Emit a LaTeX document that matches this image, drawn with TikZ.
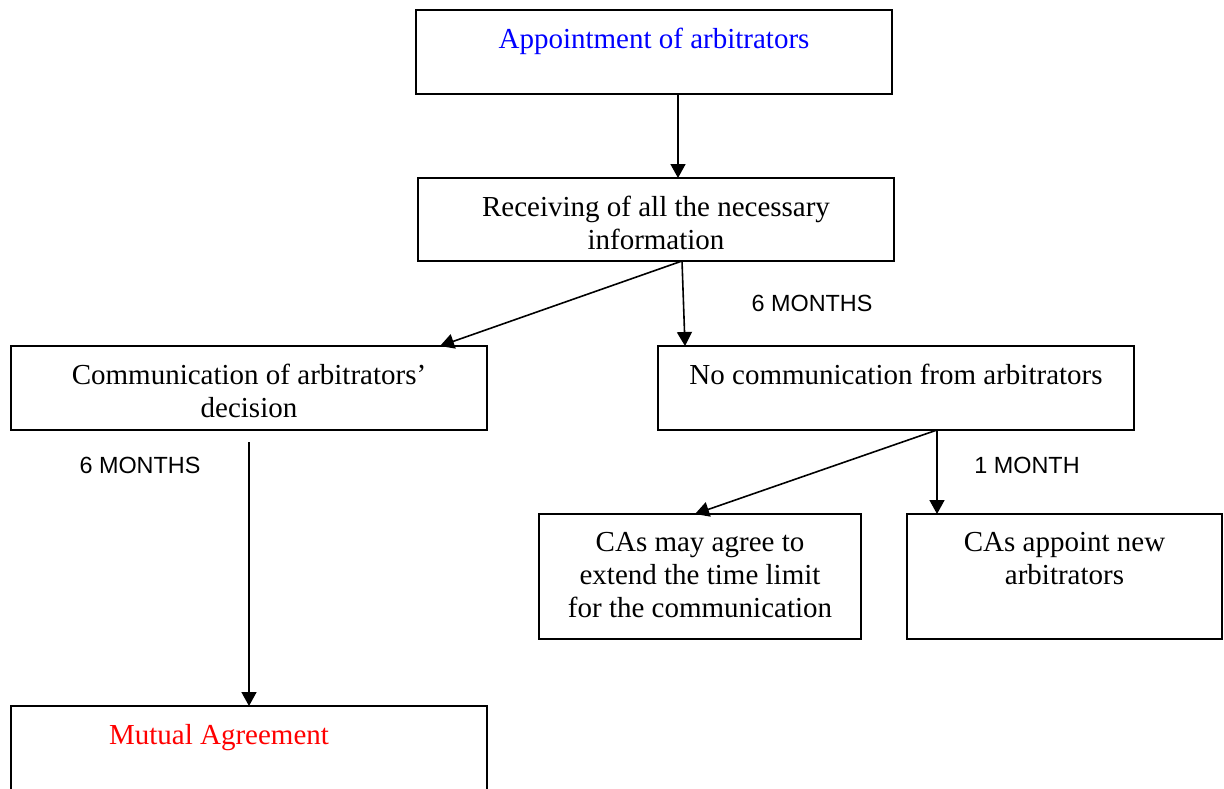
\documentclass[tikz,border=0pt]{standalone}
\usepackage{fontspec}
\setmainfont{Liberation Serif}
\newfontfamily\labelfont{Liberation Sans}
\usetikzlibrary{arrows.meta}

\tikzset{
  box/.style={draw, line width=0.9pt, inner sep=0pt, outer sep=0pt},
  boxtext/.style={anchor=north, inner sep=0pt, yshift=-9pt, align=center,
    font=\fontsize{14.5}{16.5}\selectfont},
  timelabel/.style={font=\labelfont\fontsize{11.7}{14}\selectfont},
  arrow/.style={-{Triangle[length=7pt,width=7.5pt]}, line width=0.8pt}
}

\begin{document}
\begin{tikzpicture}[x=0.5pt, y=-0.5pt]
        \clip (0,0) rectangle (1224,788);

        % Boxes
        \node[box, minimum width=238pt, minimum height=42pt,
          label={[boxtext, text=blue]north:Appointment of arbitrators}] (appoint) at (654,52) {};
        \node[box, minimum width=238pt, minimum height=41.5pt,
          label={[boxtext]north:Receiving of all the necessary\\information}] (receive) at (656,219.5) {};
        \node[box, minimum width=238pt, minimum height=42pt,
          label={[boxtext]north:Communication of arbitrators’\\decision}] (decision) at (249,388) {};
        \node[box, minimum width=238pt, minimum height=42pt,
          label={[boxtext]north:No communication from arbitrators}] (nocomm) at (896,388) {};
        \node[box, minimum width=161pt, minimum height=62.5pt,
          label={[boxtext]north:CAs may agree to\\extend the time limit\\for the communication}] (extend) at (700,576.5) {};
        \node[box, minimum width=157.5pt, minimum height=62.5pt,
          label={[boxtext]north:CAs appoint new\\arbitrators}] (newarb) at (1064.5,576.5) {};
        \node[box, minimum width=238pt, minimum height=42pt,
          label={[boxtext, text=red, xshift=-15pt]north:Mutual Agreement}] (mutual) at (249,748) {};

        % Split points
        \coordinate (rsplit) at ([xshift=13pt]receive.south);
        \coordinate (nsplit) at ([xshift=20.5pt]nocomm.south);

        % Arrows
        \draw[arrow] ([xshift=12pt]appoint.south) -- ([xshift=12pt]appoint.south |- receive.north);
        \draw[arrow] (rsplit) -- ([xshift=95.5pt]decision.north);
        \draw[arrow] (rsplit) -- ([xshift=-105.5pt]nocomm.north);
        \draw[arrow] ([yshift=-6pt]decision.south) -- (mutual.north);
        \draw[arrow] (nsplit) -- ([xshift=-2.5pt]extend.north);
        \draw[arrow] (nsplit) -- (nsplit |- newarb.north);

        % Time limits
        \node[timelabel] (six1) at (812,303) {6 MONTHS};
        \node[timelabel] (six2) at (140,465) {6 MONTHS};
        \node[timelabel] (one) at (1027,465) {1 MONTH};
      \end{tikzpicture}
\end{document}
